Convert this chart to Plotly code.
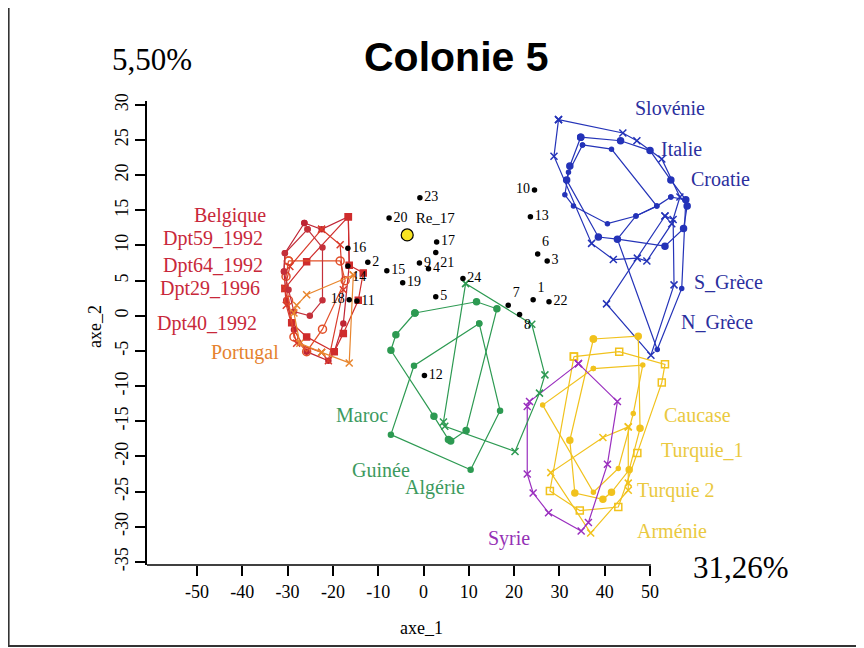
import plotly.graph_objects as go

# ---------------- data ----------------
point_labels = ["1", "2", "3", "4", "5", "6", "7", "8", "9", "10", "11", "12",
                "13", "14", "15", "16", "17", "18", "19", "20", "21", "22", "23", "24"]
point_x = [24.2, -12.3, 27.3, 1.1, 2.7, 25.2, 18.7, 21.2, -0.9, 24.5, -14.7, 0.2,
           23.6, -16.7, -8.1, -16.7, 2.9, -16.4, -4.6, -7.6, 2.7, 27.7, -0.8, 8.7]
point_y = [2.3, 7.6, 7.8, 6.7, 2.7, 8.8, 1.5, 0.2, 7.5, 17.9, 2.1, -8.5,
           14.1, 7.1, 6.4, 9.6, 10.5, 2.3, 4.7, 13.9, 9.0, 2.0, 16.8, 5.3]
point_textpos = ["top right", "middle right", "middle right", "middle right", "middle right",
                 "top right", "top right", "bottom right", "middle right", "middle left",
                 "middle right", "middle right", "middle right", "bottom right", "middle right",
                 "middle right", "middle right", "middle left", "middle right", "middle right",
                 "bottom right", "middle right", "middle right", "middle right"]

ref_label = ["Re_17"]
ref_x = [-3.6]
ref_y = [11.5]

belgique_x = [-26.3, -22.5, -16.6, -16.4, -17.7, -19.7, -21.0, -25.8, -28.6, -30.3, -30.8, -30.6, -26.3]
belgique_y = [13.2, 12.3, 14.1, 7.2, -1.1, -5.1, -6.4, -5.1, -2.0, 2.2, 6.3, 8.9, 13.2]
dpt59_x = [-16.6, -16.4, -13.3, -14.4, -17.7, -19.7, -25.8, -29.1, -30.6, -25.8, -16.6]
dpt59_y = [14.1, 7.2, 6.1, 2.2, -2.5, -5.1, -3.0, -1.0, 3.9, 7.7, 14.1]
dpt64_x = [-29.8, -18.4, -17.3, -22.3, -25.8, -28.6, -29.8, -30.35, -29.8]
dpt64_y = [7.8, 7.8, 5.0, -1.9, -5.1, -3.0, 2.2, 5.6, 7.8]
dpt29_x = [-22.5, -18.4, -17.7, -21.0, -22.5, -28.0, -30.3, -30.6, -29.5, -22.5]
dpt29_y = [12.3, 10.1, 3.7, -6.4, -5.2, -3.9, 1.5, 3.9, 7.0, 12.3]
dpt40_x = [-25.6, -22.3, -22.3, -25.1, -28.6, -29.8, -30.8, -30.6, -25.6]
dpt40_y = [12.3, 9.7, 2.2, 0.0, 0.6, 3.7, 6.3, 8.9, 12.3]
portugal_x = [-15.5, -25.8, -28.0, -28.6, -27.3, -22.5, -16.4, -15.5]
portugal_y = [5.8, 3.0, 1.5, 0.4, -3.9, -5.2, -6.7, 5.8]

slovenie_x = [29.8, 44.0, 47.1, 52.6, 56.6, 54.8, 49.3, 47.2, 41.9, 37.1, 28.8, 29.8]
slovenie_y = [27.9, 26.0, 24.9, 22.3, 16.9, 13.1, 7.8, 8.2, 8.0, 10.3, 22.7, 27.9]
italie_x = [34.7, 43.5, 50.0, 54.6, 57.9, 58.2, 57.4, 53.3, 42.8, 38.6, 31.6, 32.3, 34.7]
italie_y = [25.4, 24.9, 23.5, 19.3, 16.5, 15.6, 12.4, 9.9, 10.9, 11.2, 19.3, 21.3, 25.4]
croatie_x = [35.1, 41.5, 51.5, 46.9, 40.6, 33.1, 31.2, 32.0, 35.1]
croatie_y = [24.3, 23.7, 15.6, 14.2, 13.1, 15.6, 17.2, 20.4, 24.3]
sgrece_x = [54.6, 57.9, 57.0, 51.6, 42.8, 46.9, 51.5, 54.6]
sgrece_y = [16.9, 16.5, 3.9, -4.8, 10.9, 14.2, 15.6, 16.9]
ngrece_x = [53.3, 40.4, 50.2, 55.3, 55.1, 53.3]
ngrece_y = [14.2, 1.7, -5.6, 4.4, 13.7, 14.2]

syrie_x = [34.2, 42.8, 40.6, 36.4, 34.8, 27.6, 24.2, 22.9, 22.9, 23.4, 34.2]
syrie_y = [-6.8, -12.2, -21.1, -29.4, -30.6, -28.0, -25.2, -22.5, -12.9, -12.2, -6.8]
caucase_x = [37.5, 47.4, 47.8, 45.4, 41.5, 39.6, 33.4, 32.3, 37.5]
caucase_y = [-3.3, -2.9, -16.0, -21.9, -25.1, -26.1, -25.2, -17.7, -3.3]
turquie1_x = [33.2, 43.2, 53.3, 52.6, 47.2, 43.0, 34.5, 27.9, 33.2]
turquie1_y = [-5.8, -5.1, -6.9, -9.5, -19.5, -27.2, -27.7, -24.9, -5.8]
turquie2_x = [37.5, 48.4, 46.3, 43.0, 37.5, 26.3, 37.5]
turquie2_y = [-7.5, -7.0, -13.9, -21.7, -25.1, -12.7, -7.5]
armenie_x = [45.2, 39.6, 28.1, 36.9, 45.2, 45.2, 45.2]
armenie_y = [-15.8, -17.3, -22.3, -30.9, -24.8, -23.8, -15.8]

maroc_x = [-1.9, 11.7, 16.2, 9.4, 6.0, 5.5, 2.3, -7.2, -6.1, -1.9]
maroc_y = [0.4, 2.0, 1.0, -16.3, -17.8, -17.6, -14.3, -4.9, -2.7, 0.4]
guinee_x = [12.3, -2.1, -7.2, 10.4, 16.9, 12.3]
guinee_y = [-1.1, -7.1, -16.9, -21.9, -13.5, -1.1]
algerie_x = [9.3, 23.9, 26.8, 25.6, 20.2, 4.7, 4.4, 9.3]
algerie_y = [4.6, -1.2, -8.4, -11.0, -19.3, -15.7, -15.1, 4.6]

x_ticks = [-50, -40, -30, -20, -10, 0, 10, 20, 30, 40, 50]
x_ticktext = ["-50", "-40", "-30", "-20", "-10", "0", "10", "20", "30", "40", "50"]
y_ticks = [-35, -30, -25, -20, -15, -10, -5, 0, 5, 10, 15, 20, 25, 30]
y_ticktext = ["-35", "-30", "-25", "-20", "-15", "-10", "-5", "0", "5", "10", "15", "20", "25", "30"]

# ---------------- styles ----------------
RED = "#c8283a"
BLUE = "#2433b8"
YEL = "#f1c21d"
PUR = "#9a2fbf"
GRN = "#2d9a52"

groups = [
    (belgique_x, belgique_y, "#bf2435", "circle", 5),
    (dpt59_x, dpt59_y, "#cf2c2c", "square", 6),
    (dpt64_x, dpt64_y, "#e2512a", "circle-open", 8),
    (dpt29_x, dpt29_y, "#d93b2b", "x-thin", 7),
    (dpt40_x, dpt40_y, "#c4303a", "circle", 5),
    (portugal_x, portugal_y, "#e8862e", "x-thin", 7),
    (slovenie_x, slovenie_y, BLUE, "x-thin", 7),
    (italie_x, italie_y, BLUE, "circle", 6),
    (croatie_x, croatie_y, BLUE, "circle", 4),
    (sgrece_x, sgrece_y, BLUE, "circle", 4),
    (ngrece_x, ngrece_y, BLUE, "x-thin", 7),
    (caucase_x, caucase_y, YEL, "circle", 6),
    (turquie1_x, turquie1_y, YEL, "square-open", 7),
    (turquie2_x, turquie2_y, YEL, "circle", 4),
    (armenie_x, armenie_y, YEL, "x-thin", 7),
    (syrie_x, syrie_y, PUR, "x-thin", 7),
    (maroc_x, maroc_y, GRN, "circle", 6),
    (guinee_x, guinee_y, GRN, "circle", 5),
    (algerie_x, algerie_y, GRN, "x-thin", 7),
]

fig = go.Figure()
for gx, gy, col, sym, sz in groups:
    fig.add_trace(go.Scatter(
        x=gx, y=gy, mode="lines+markers",
        line=dict(color=col, width=1.2),
        marker=dict(symbol=sym, size=sz, color=col, line=dict(color=col, width=1.5)),
        hoverinfo="skip", showlegend=False))

fig.add_trace(go.Scatter(
    x=point_x, y=point_y, mode="markers+text", text=point_labels,
    textposition=point_textpos,
    textfont=dict(family="Liberation Serif", size=14, color="black"),
    marker=dict(color="black", size=5.5), showlegend=False))

fig.add_trace(go.Scatter(
    x=ref_x, y=ref_y, mode="markers+text", text=ref_label, textposition="top right",
    textfont=dict(family="Liberation Serif", size=15, color="black"),
    marker=dict(color="#f7e422", size=12, line=dict(color="black", width=1.2)),
    showlegend=False))

# ---------------- layout ----------------
# the page adds an 8px body margin; positions below are in page pixels
OFF = 8
W, H = 856, 640
ML, MR, MT, MB = 139, 169, 93, 83
PW, PH = W - ML - MR, H - MT - MB


def px(x):
    return (x - OFF - ML) / PW


def py(y):
    return (H - MB - (y - OFF)) / PH


XR = [-61.04, 59.93]
YR = [-35.44, 30.55]

fig.update_layout(
    width=W, height=H,
    margin=dict(l=ML, r=MR, t=MT, b=MB, pad=0),
    paper_bgcolor="white", plot_bgcolor="white",
    showlegend=False,
    xaxis=dict(range=XR, tickvals=x_ticks, ticktext=x_ticktext, ticks="outside",
               ticklen=10, tickwidth=1.5,
               tickcolor="black", showline=False, showgrid=False, zeroline=False,
               tickfont=dict(family="Liberation Serif", size=18, color="black"),
               ticklabelstandoff=0, fixedrange=True),
    yaxis=dict(range=YR, tickvals=y_ticks, ticktext=y_ticktext, ticks="outside",
               ticklen=10, tickwidth=1.5,
               tickcolor="black", showline=True, linecolor="black", linewidth=1.5,
               showgrid=False, zeroline=False, tickangle=-90,
               tickfont=dict(family="Liberation Serif", size=18, color="black"),
               ticklabelstandoff=0, fixedrange=True),
)

shapes = [
    # x axis line (ends at 50)
    dict(type="line", xref="x", yref="paper", x0=XR[0], x1=50.2, y0=0, y1=0,
         line=dict(color="black", width=1.5)),
    # outer frame
    dict(type="line", xref="paper", yref="paper", x0=px(8.6), x1=px(8.6), y0=py(0), y1=py(646),
         line=dict(color="#333333", width=2)),
    dict(type="line", xref="paper", yref="paper", x0=px(8), x1=px(870), y0=py(646), y1=py(646),
         line=dict(color="#333333", width=2)),
]
fig.update_layout(shapes=shapes)

SERIF = "Liberation Serif"
annots = [
    ("5,50%", 151.7, 60, 31, "black", SERIF, 0),
    ("<b>Colonie 5</b>", 456, 57, 41, "black", "Liberation Sans", 0),
    ("31,26%", 740.5, 567, 31, "black", SERIF, 0),
    ("axe_1", 421, 628, 18, "black", SERIF, 0),
    ("axe_2", 95, 327, 18, "black", SERIF, -90),
    ("Belgique", 230, 215, 20, RED, SERIF, 0),
    ("Dpt59_1992", 213, 238.5, 20, RED, SERIF, 0),
    ("Dpt64_1992", 212.5, 265, 20, RED, SERIF, 0),
    ("Dpt29_1996", 210, 288.5, 20, RED, SERIF, 0),
    ("Dpt40_1992", 206.5, 323, 20, RED, SERIF, 0),
    ("Portugal", 245, 352, 20, "#e5822f", SERIF, 0),
    ("Slovénie", 669.5, 108, 20, "#2b2f9e", SERIF, 0),
    ("Italie", 681, 148.5, 20, "#2b2f9e", SERIF, 0),
    ("Croatie", 720, 178.5, 20, "#2b2f9e", SERIF, 0),
    ("S_Grèce", 728, 282, 20, "#2b2f9e", SERIF, 0),
    ("N_Grèce", 716.5, 322, 20, "#2b2f9e", SERIF, 0),
    ("Caucase", 697.5, 415, 20, "#eac940", SERIF, 0),
    ("Turquie_1", 702, 450, 20, "#eac940", SERIF, 0),
    ("Turquie 2", 676, 491, 20, "#eac940", SERIF, 0),
    ("Arménie", 671.5, 531, 20, "#eac940", SERIF, 0),
    ("Syrie", 509, 538, 20, "#9531b5", SERIF, 0),
    ("Maroc", 361.5, 414.5, 20, "#3c9a5e", SERIF, 0),
    ("Guinée", 380.5, 469.5, 20, "#3c9a5e", SERIF, 0),
    ("Algérie", 434.5, 487, 20, "#3c9a5e", SERIF, 0),
]
fig.update_layout(annotations=[
    dict(text=t, x=px(ax), y=py(ay), xref="paper", yref="paper", showarrow=False,
         xanchor="center", yanchor="middle", textangle=ang,
         font=dict(family=fam, size=sz, color=col))
    for t, ax, ay, sz, col, fam, ang in annots
])

fig.write_html("out.html")
